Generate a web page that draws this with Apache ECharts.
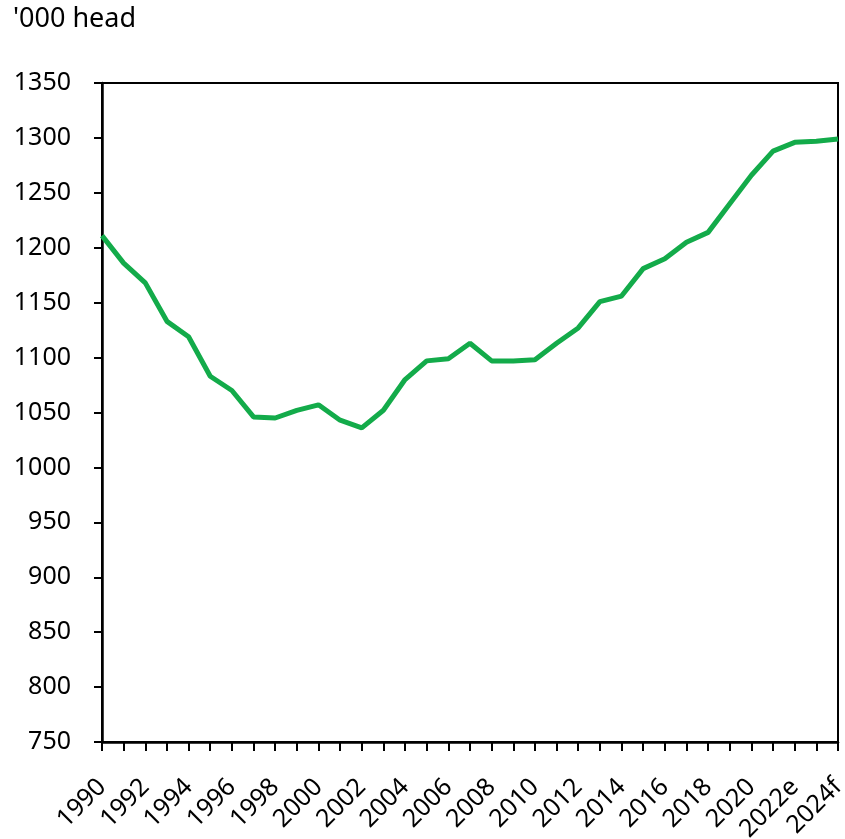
<!DOCTYPE html>
<html>
<head>
<meta charset="utf-8">
<style>
  html, body { margin: 0; padding: 0; background: #fff; }
  #chart { width: 845px; height: 839px; }
</style>
<script src="https://cdn.jsdelivr.net/npm/echarts@6/dist/echarts.min.js"></script>
</head>
<body>
<div id="chart"></div>
<script>
// years on the x axis
var years = ['1990', '1991', '1992', '1993', '1994', '1995', '1996', '1997', '1998', '1999',
  '2000', '2001', '2002', '2003', '2004', '2005', '2006', '2007', '2008', '2009',
  '2010', '2011', '2012', '2013', '2014', '2015', '2016', '2017', '2018', '2019',
  '2020', '2021', '2022e', '2023f', '2024f'];

// head count, thousands
var herd = [1211, 1186, 1168, 1133, 1119, 1083, 1070, 1046, 1045, 1052,
  1057, 1043, 1036, 1052, 1080, 1097, 1099, 1113, 1097, 1097,
  1098, 1113, 1127, 1151, 1156, 1181, 1190, 1205, 1214, 1240,
  1266, 1288, 1296, 1297, 1299];

var yTicks = [750, 800, 850, 900, 950, 1000, 1050, 1100, 1150, 1200, 1250, 1300, 1350];

var font = 'Noto Sans';
var chart = echarts.init(document.getElementById('chart'));

var option = {
  animation: false,
  textStyle: { fontFamily: font },
  graphic: [{
    type: 'text',
    left: 13,
    top: 6,
    style: {
      text: "'000 head",
      font: '27px "Noto Sans"',
      fill: '#000'
    }
  }],
  grid: {
    left: 102,
    right: 7,
    top: 83,
    bottom: 97,
    outerBoundsMode: 'none',
    containLabel: false,
    show: true,
    borderColor: '#000',
    borderWidth: 2
  },
  xAxis: {
    type: 'category',
    boundaryGap: false,
    data: years,
    axisLine: { lineStyle: { color: '#000', width: 2.5 } },
    axisTick: {
      show: true,
      interval: 0,
      length: 9,
      lineStyle: { color: '#000', width: 2 }
    },
    axisLabel: {
      interval: 1,
      rotate: 45,
      margin: 41,
      color: '#000',
      fontSize: 25,
      fontFamily: font
    },
    splitLine: { show: false }
  },
  yAxis: {
    type: 'value',
    min: yTicks[0],
    max: yTicks[yTicks.length - 1],
    interval: 50,
    axisLine: { show: true, lineStyle: { color: '#000', width: 2.5 } },
    axisTick: { show: true, length: 8, lineStyle: { color: '#000', width: 2 } },
    axisLabel: {
      margin: 31,
      color: '#000',
      fontSize: 25,
      fontFamily: font,
      formatter: function (v) { return String(v); }
    },
    splitLine: { show: false }
  },
  series: [{
    type: 'line',
    data: herd,
    symbol: 'none',
    lineStyle: { color: '#13ab4a', width: 5 }
  }]
};

chart.setOption(option);
</script>
</body>
</html>
